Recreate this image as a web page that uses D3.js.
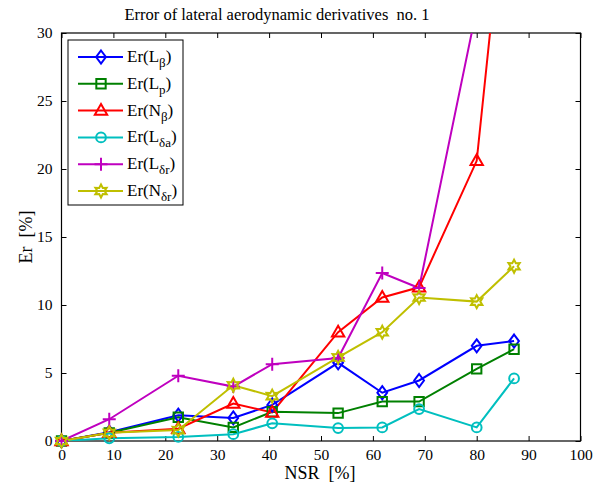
<!DOCTYPE html>
<html>
<head>
<meta charset="utf-8">
<script src="https://cdn.jsdelivr.net/npm/d3@7"></script>
<style>
  body { margin: 0; background: #fff; }
  svg text { font-family: "Liberation Serif", "Times New Roman", Times, serif !important; fill: #000; }
</style>
</head>
<body>
<div id="content"></div>
<script>
// data
var nsr = [0, 9.2, 22.5, 33.1, 40.6, 53.3, 61.8, 68.9, 80.0, 87.2]
var erLbeta = [0, 0.65, 1.9, 1.7, 2.65, 5.75, 3.55, 4.45, 7.0, 7.35]
var erLp = [0, 0.6, 1.75, 1.0, 2.15, 2.05, 2.9, 2.9, 5.3, 6.75]
var erNbeta = [0, 0.6, 0.9, 2.75, 2.1, 8.0, 10.55, 11.3, 20.6, 47]
var erLda = [0, 0.2, 0.3, 0.5, 1.3, 0.95, 1.0, 2.35, 1.0, 4.6]
var erLdr = [0, 1.6, 4.8, 4.0, 5.65, 6.1, 12.35, 11.25, 31.8, 55]
var erNdr = [0, 0.6, 0.8, 4.1, 3.3, 6.15, 8.0, 10.55, 10.25, 12.85]
var xTicks = [0, 10, 20, 30, 40, 50, 60, 70, 80, 90, 100]
var yTicks = [0, 5, 10, 15, 20, 25, 30]

var series = [
  {name: "L", sub: "\u03b2", values: erLbeta, color: "#0000ff", marker: "diamond"},
  {name: "L", sub: "p", values: erLp, color: "#008000", marker: "square"},
  {name: "N", sub: "\u03b2", values: erNbeta, color: "#ff0000", marker: "triangle"},
  {name: "L", sub: "\u03b4a", values: erLda, color: "#00bfbf", marker: "circle"},
  {name: "L", sub: "\u03b4r", values: erLdr, color: "#bf00bf", marker: "plus"},
  {name: "N", sub: "\u03b4r", values: erNdr, color: "#bfbf00", marker: "hexagram"}
]

svgwidth = 603
svgheight = 488
margin = {top: 33, right: 22.5, bottom: 47, left: 61.5}
width = svgwidth - margin.left - margin.right
height = svgheight - margin.top - margin.bottom

var x = d3.scaleLinear().domain([0, 100]).range([0, width])
var y = d3.scaleLinear().domain([0, 30]).range([height, 0])

var svg = d3.select("#content").append("svg")
  .attr("width", svgwidth)
  .attr("height", svgheight)

svg.append("defs").append("clipPath").attr("id", "plotclip")
  .append("rect").attr("width", width).attr("height", height)

var g = svg.append("g").attr("transform", "translate(" + margin.left + "," + margin.top + ")")

// ticks on all four sides, pointing inward
var tl = 5
g.append("g").attr("transform", "translate(0," + height + ")")
  .call(d3.axisBottom(x).tickValues(xTicks).tickSizeInner(-tl).tickSizeOuter(0).tickPadding(8))
g.append("g")
  .call(d3.axisTop(x).tickValues(xTicks).tickSizeInner(-tl).tickSizeOuter(0).tickFormat(""))
g.append("g")
  .call(d3.axisLeft(y).tickValues(yTicks).tickSizeInner(-tl).tickSizeOuter(0).tickPadding(9))
g.append("g").attr("transform", "translate(" + width + ",0)")
  .call(d3.axisRight(y).tickValues(yTicks).tickSizeInner(-tl).tickSizeOuter(0).tickFormat(""))
g.selectAll(".domain").remove()
g.selectAll(".tick line").attr("stroke", "#000").attr("stroke-width", 1)
g.selectAll("g").attr("font-family", null).attr("font-size", null)
g.selectAll(".tick text").style("font-size", "15.5px")

g.append("rect").attr("width", width).attr("height", height)
  .attr("fill", "none").attr("stroke", "#000").attr("stroke-width", 1.2)

// marker shapes
function markerPath(type, s) {
  var h = s / 2
  if (type == "diamond") return "M0," + (-h) + "L" + (h * 0.75) + ",0L0," + h + "L" + (-h * 0.75) + ",0Z"
  if (type == "square") { var q = h * 0.72; return "M" + (-q) + "," + (-q) + "H" + q + "V" + q + "H" + (-q) + "Z" }
  if (type == "triangle") return "M0," + (-h) + "L" + (h * 0.95) + "," + (h * 0.65) + "L" + (-h * 0.95) + "," + (h * 0.65) + "Z"
  if (type == "circle") { var r = h * 0.75; return "M" + r + ",0A" + r + "," + r + " 0 1,1 " + (-r) + ",0A" + r + "," + r + " 0 1,1 " + r + ",0Z" }
  if (type == "plus") return "M0," + (-h) + "V" + h + "M" + (-h) + ",0H" + h
  if (type == "hexagram") {
    var pts = []
    for (var k = 0; k < 12; k++) {
      var a = -Math.PI / 2 + k * Math.PI / 6
      var rr = (k % 2 == 0) ? h : h * 0.55
      pts.push([rr * Math.cos(a), rr * Math.sin(a)])
    }
    return "M" + pts.map(function(p) { return p[0].toFixed(2) + "," + p[1].toFixed(2) }).join("L") + "Z"
  }
}

var line = d3.line().x(function(d) { return x(d[0]) }).y(function(d) { return y(d[1]) })
var plot = g.append("g").attr("clip-path", "url(#plotclip)")

series.forEach(function(s) {
  var pts = nsr.map(function(v, i) { return [v, s.values[i]] })
  plot.append("path").datum(pts)
    .attr("d", line)
    .attr("fill", "none")
    .attr("stroke", s.color)
    .attr("stroke-width", 2)
  g.selectAll(null).data(pts.filter(function(d) { return d[1] <= 30 })).enter()
    .append("path")
    .attr("transform", function(d) { return "translate(" + x(d[0]) + "," + y(d[1]) + ")" })
    .attr("d", markerPath(s.marker, 13))
    .attr("fill", "none")
    .attr("stroke", s.color)
    .attr("stroke-width", 2)
})

// legend
var lg = svg.append("g").attr("transform", "translate(68,40)")
lg.append("rect").attr("width", 115).attr("height", 165)
  .attr("fill", "#fff").attr("stroke", "#000").attr("stroke-width", 1)
series.forEach(function(s, i) {
  var yy = 17 + i * 26.8
  lg.append("line").attr("x1", 10).attr("x2", 55).attr("y1", yy).attr("y2", yy)
    .attr("stroke", s.color).attr("stroke-width", 2)
  lg.append("path").attr("transform", "translate(33," + yy + ")")
    .attr("d", markerPath(s.marker, 13))
    .attr("fill", "none").attr("stroke", s.color).attr("stroke-width", 2)
  var t = lg.append("text").attr("x", 59).attr("y", yy + 5).style("font-size", "17px")
  t.append("tspan").text("Er(" + s.name)
  t.append("tspan").attr("dy", 5).style("font-size", "13px").text(s.sub)
  t.append("tspan").attr("dy", -5).text(")")
})

// title and axis labels
svg.append("text").attr("x", 277).attr("y", 20).attr("text-anchor", "middle")
  .style("font-size", "16.5px").style("white-space", "pre").text("Error of lateral aerodynamic derivatives  no. 1")
svg.append("text").attr("x", 320).attr("y", 479).attr("text-anchor", "middle")
  .style("font-size", "18px").style("white-space", "pre").text("NSR  [%]")
svg.append("text").attr("transform", "translate(32,237) rotate(-90)").attr("text-anchor", "middle")
  .style("font-size", "18px").style("white-space", "pre").text("Er  [%]")
</script>
</body>
</html>
